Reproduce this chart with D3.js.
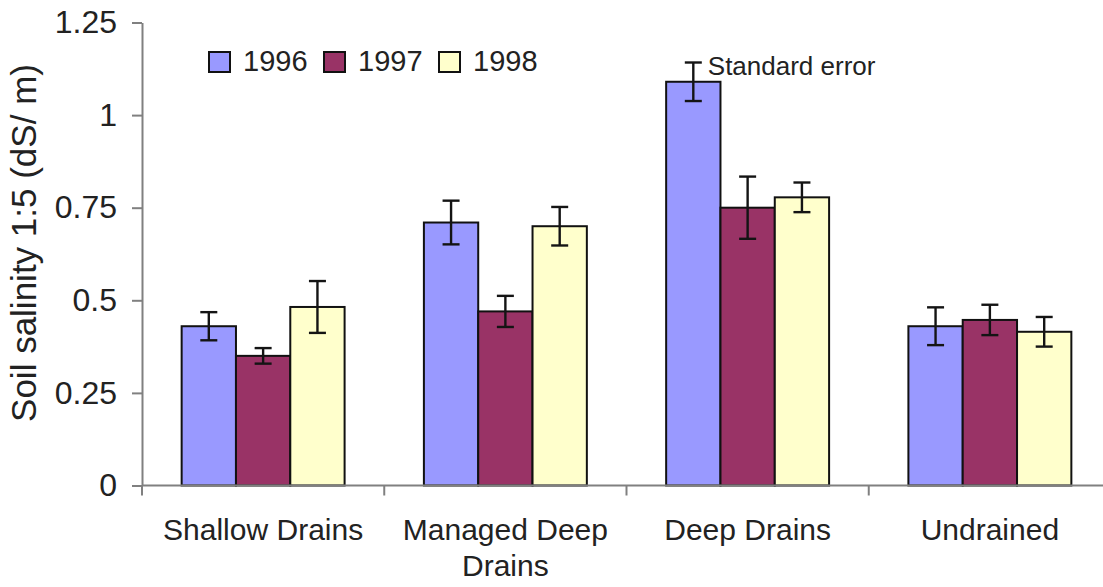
<!DOCTYPE html>
<html>
<head>
<meta charset="utf-8">
<script src="https://cdn.jsdelivr.net/npm/d3@7"></script>
<style>
  html, body { margin: 0; padding: 0; background: #ffffff; }
  svg { display: block; }
  text { font-family: "Liberation Sans", Arial, sans-serif; fill: #222; }
</style>
</head>
<body>
<svg id="chart" width="1103" height="587"></svg>
<script>
// Soil salinity (1:5 extract, dS/m) by drainage treatment and year
const categories = ["Shallow Drains", "Managed Deep Drains", "Deep Drains", "Undrained"];
const categoryLines = [["Shallow Drains"], ["Managed Deep", "Drains"], ["Deep Drains"], ["Undrained"]];
const years = ["1996", "1997", "1998"];
const salinity1996 = [0.43, 0.71, 1.09, 0.43];
const salinity1997 = [0.35, 0.47, 0.75, 0.447];
const salinity1998 = [0.482, 0.70, 0.778, 0.415];
const stdErr1996 = [0.038, 0.059, 0.052, 0.051];
const stdErr1997 = [0.021, 0.042, 0.084, 0.041];
const stdErr1998 = [0.070, 0.052, 0.040, 0.040];
const yTicks = [0, 0.25, 0.5, 0.75, 1, 1.25];
const yearColors = ["#9999FF", "#993366", "#FFFFCC"];

const valuesByYear = [salinity1996, salinity1997, salinity1998];
const errorsByYear = [stdErr1996, stdErr1997, stdErr1998];

const rows = [];
categories.forEach((c, ci) => {
  years.forEach((yr, yi) => {
    rows.push({ category: c, year: yr, yi: yi, ci: ci,
                value: valuesByYear[yi][ci], se: errorsByYear[yi][ci] });
  });
});

const svg = d3.select("#chart");
const axisLeftX = 142, baseY = 485.5, topY = 22.5;

const x0 = d3.scaleBand().domain(categories).range([axisLeftX, 1111]);
const x1 = d3.scaleBand().domain(years).range([0, x0.bandwidth()]).paddingOuter(0.73);
const y = d3.scaleLinear().domain([0, 1.25]).range([baseY, topY]);
const color = d3.scaleOrdinal().domain(years).range(yearColors);

// Bars
svg.append("g").selectAll("rect")
  .data(rows).join("rect")
  .attr("x", d => x0(d.category) + x1(d.year))
  .attr("y", d => y(d.value))
  .attr("width", x1.bandwidth())
  .attr("height", d => y(0) - y(d.value))
  .attr("fill", d => color(d.year))
  .attr("stroke", "#111")
  .attr("stroke-width", 2);

// Standard error bars
const capHalf = 8.5;
const err = svg.append("g").attr("stroke", "#141414").attr("stroke-width", 2.4).attr("fill", "none");
rows.forEach(d => {
  const cx = x0(d.category) + x1(d.year) + x1.bandwidth() / 2;
  const yHi = y(d.value + d.se), yLo = y(d.value - d.se);
  err.append("line").attr("x1", cx).attr("x2", cx).attr("y1", yHi).attr("y2", yLo);
  err.append("line").attr("x1", cx - capHalf).attr("x2", cx + capHalf).attr("y1", yHi).attr("y2", yHi);
  err.append("line").attr("x1", cx - capHalf).attr("x2", cx + capHalf).attr("y1", yLo).attr("y2", yLo);
});

// Annotation next to the tallest error bar
const deep = rows.find(d => d.category === "Deep Drains" && d.year === "1996");
svg.append("text")
  .attr("x", x0(deep.category) + x1(deep.year) + x1.bandwidth() / 2 + capHalf + 6)
  .attr("y", y(deep.value + deep.se) + 12.5)
  .attr("font-size", 26)
  .text("Standard error");

// Y axis
const yAxis = d3.axisLeft(y).tickValues(yTicks).tickSize(10).tickSizeOuter(0).tickPadding(15)
  .tickFormat(d => String(d));
const gy = svg.append("g").attr("transform", `translate(${axisLeftX},0)`).call(yAxis);
gy.select(".domain").attr("stroke", "#808080").attr("stroke-width", 2);
gy.selectAll(".tick line").attr("stroke", "#808080").attr("stroke-width", 2);
gy.selectAll(".tick text").attr("font-size", 32).attr("fill", "#222")
  .attr("font-family", "'Liberation Sans', Arial, sans-serif");

// X axis: baseline with ticks at category boundaries
const gx = svg.append("g").attr("stroke", "#808080").attr("stroke-width", 2);
gx.append("line").attr("x1", axisLeftX).attr("x2", 1111).attr("y1", baseY).attr("y2", baseY);
categories.concat([null]).forEach((c, i) => {
  const bx = c === null ? x0.range()[1] : x0(c);
  gx.append("line").attr("x1", bx).attr("x2", bx).attr("y1", baseY).attr("y2", baseY + 10);
});

// Category labels
categoryLines.forEach((lines, i) => {
  const cx = x0(categories[i]) + x0.bandwidth() / 2;
  const t = svg.append("text").attr("text-anchor", "middle").attr("font-size", 30)
    .attr("x", cx).attr("y", 540);
  lines.forEach((ln, li) => {
    t.append("tspan").attr("x", cx).attr("dy", li === 0 ? 0 : 36).text(ln);
  });
});

// Y axis title
svg.append("text")
  .attr("transform", "translate(36,243) rotate(-90)")
  .attr("text-anchor", "middle")
  .attr("font-size", 35)
  .text("Soil salinity 1:5 (dS/ m)");

// Legend
const legend = svg.append("g");
years.forEach((yr, i) => {
  const lx = 209 + i * 115;
  legend.append("rect").attr("x", lx).attr("y", 52).attr("width", 21).attr("height", 20)
    .attr("fill", color(yr)).attr("stroke", "#111").attr("stroke-width", 2);
  legend.append("text").attr("x", lx + 34).attr("y", 71).attr("font-size", 29).text(yr);
});
</script>
</body>
</html>
